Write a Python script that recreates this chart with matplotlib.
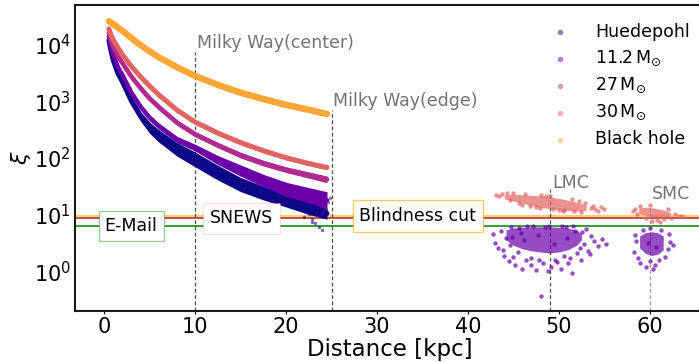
import matplotlib
matplotlib.use("Agg")
import matplotlib.pyplot as plt
import numpy as np

dist = [0.5, 0.75, 1, 1.5, 2, 3, 4, 5, 6, 8, 10, 12.5, 15, 17.5, 20, 22.5, 24.5]
xi_huedepohl = [12000, 7500, 5200, 3100, 2200, 1000, 540, 340, 245, 142, 94, 55, 34, 24, 17.8, 13, 10.5]
xi_11 = [14000, 9000, 6500, 4000, 2900, 1400, 800, 510, 365, 212, 152, 92, 60, 40, 28, 22, 18]
xi_27 = [16000, 11500, 9000, 6200, 4700, 2700, 1700, 1120, 790, 420, 262, 168, 112, 81, 62, 50, 42]
xi_30 = [19000, 14500, 12000, 8800, 6600, 4100, 2700, 1850, 1300, 700, 430, 275, 187, 135, 101, 80, 68]
xi_bh = [26000, 24500, 23000, 20000, 17500, 13000, 9800, 7600, 6000, 4000, 2800, 1950, 1420, 1100, 870, 710, 600]

# spread of each band (dex)
spr_huedepohl = [0.05, 0.06, 0.07, 0.09, 0.11, 0.14, 0.17, 0.2, 0.22, 0.24, 0.26, 0.26, 0.25, 0.24, 0.23, 0.22, 0.2]
spr_11 = [0.05, 0.05, 0.06, 0.07, 0.07, 0.08, 0.09, 0.1, 0.1, 0.11, 0.12, 0.16, 0.2, 0.22, 0.25, 0.27, 0.3]
spr_27 = [0.06, 0.06, 0.07, 0.07, 0.08, 0.08, 0.08, 0.08, 0.09, 0.09, 0.09, 0.09, 0.1, 0.1, 0.1, 0.11, 0.12]
spr_30 = [0.07] * 6 + [0.08] * 11
spr_bh = [0.1] * 17

labels = ['Huedepohl', r'11.2$\,\mathrm{M}_{\odot}$', r'27$\,\mathrm{M}_{\odot}$',
          r'30$\,\mathrm{M}_{\odot}$', 'Black hole']

# stray points at the far end of the galactic bands
stray_h_d = [22.0, 22.5, 22.8, 22.9, 23.2, 23.6, 23.9, 24.1, 24.4]
stray_h_xi = [9.0, 10.2, 8.3, 7.3, 7.0, 6.0, 5.4, 9.5, 11.5]
stray_11_d = [23.2, 23.8, 24.0, 24.3, 24.6, 24.8]
stray_11_xi = [16.4, 14.0, 10.8, 12.5, 16.5, 19.5]

# LMC / SMC clouds: dense cores (bounds) + single points
lmc30_d = [44, 45, 46, 47, 48, 49, 50, 51, 52, 53]
lmc30_hi = [22.5, 23, 22.5, 22, 21.5, 20.5, 19.5, 18, 16.5, 15]
lmc30_lo = [19, 17.5, 16, 14.5, 13.5, 12.8, 12.2, 11.8, 11.6, 11.8]
lmc30_pts_d = [43.1, 43.4, 43.8, 44.3, 45.0, 53.5, 54.0, 54.6, 55.0, 53.8, 52.5, 50.5,
               47.5, 46.0, 49.0, 51.5, 48.0, 50.0, 54.3, 52.9, 44.6, 45.6, 46.8, 47.9,
               49.4, 50.6, 51.7, 52.2, 46.3, 48.6]
lmc30_pts_xi = [22.5, 21.0, 23.5, 24.0, 23.8, 13.0, 12.5, 13.6, 12.8, 14.5, 11.3, 11.6,
                13.8, 15.0, 21.5, 19.0, 22.3, 12.0, 11.8, 16.3, 18.0, 16.4, 14.2, 13.2,
                12.4, 12.0, 11.4, 17.4, 23.4, 21.8]

lmc11_d = [44.2, 45, 46, 47, 48, 49, 50, 51, 52, 52.5]
lmc11_hi = [5.4, 5.8, 6.0, 6.1, 6.1, 6.1, 6.0, 5.8, 5.3, 4.6]
lmc11_lo = [3.6, 2.9, 2.5, 2.3, 2.2, 2.1, 2.2, 2.4, 2.9, 3.6]
lmc11_pts_d = [42.8, 43.0, 43.3, 43.6, 44.0, 44.2, 44.5, 44.8, 45.2, 45.5, 46.0, 46.4,
               47.0, 47.5, 48.0, 48.3, 48.8, 49.2, 49.6, 50.2, 50.6, 51.0, 51.5, 52.0,
               52.4, 52.8, 53.2, 53.5, 53.9, 54.3, 54.8, 55.2, 52.6, 53.0, 46.5, 50.8,
               48.5, 44.6, 45.8, 51.8, 43.9, 45.0, 46.9, 47.8, 49.8, 51.2, 52.3, 53.4,
               45.6, 47.2, 48.9, 50.4, 51.6, 44.9, 46.2, 47.7, 49.5, 50.9]
lmc11_pts_xi = [4.5, 3.2, 2.6, 5.2, 1.9, 3.8, 1.5, 6.0, 1.3, 2.2, 1.1, 1.6,
                1.3, 1.05, 0.37, 1.4, 1.0, 1.2, 1.6, 1.1, 1.9, 1.4, 0.95, 2.1,
                1.6, 3.0, 2.3, 4.2, 3.4, 2.8, 3.7, 3.0, 4.9, 5.6, 6.2, 6.0,
                6.1, 2.9, 4.8, 5.2, 2.4, 1.8, 1.7, 1.6, 1.45, 1.7, 2.6, 2.0,
                5.9, 6.3, 6.4, 6.3, 6.2, 4.0, 3.6, 4.4, 3.1, 3.9]

smc30_d = [58.8, 59.5, 60.3, 61.0, 61.8, 62.3]
smc30_hi = [13.0, 13.6, 13.2, 12.6, 11.8, 10.8]
smc30_lo = [10.4, 9.8, 9.2, 9.0, 9.2, 9.6]
smc30_pts_d = [58.2, 58.4, 58.6, 59.0, 60.0, 60.8, 61.2, 61.6, 62.4, 62.8, 63.2, 63.6,
               60.3, 59.6, 62.0]
smc30_pts_xi = [11.5, 12.6, 10.2, 14.2, 14.6, 8.0, 7.3, 8.4, 8.8, 10.1, 9.4, 9.5,
                7.6, 8.6, 12.4]

smc11_d = [58.9, 59.5, 60.2, 60.9, 61.5]
smc11_hi = [4.2, 4.8, 5.0, 4.8, 4.2]
smc11_lo = [2.6, 2.1, 1.9, 2.0, 2.4]
smc11_pts_d = [58.3, 58.5, 58.7, 59.0, 59.3, 59.6, 60.0, 60.1, 60.4, 60.6, 61.0, 61.3,
               61.7, 62.0, 62.3, 62.6, 62.1, 58.4, 59.8, 60.7]
smc11_pts_xi = [2.2, 3.4, 1.7, 1.4, 5.3, 1.2, 1.5, 5.8, 1.1, 1.3, 1.6, 5.4,
                1.8, 2.5, 3.3, 2.9, 4.6, 4.4, 3.2, 2.7]

# alert thresholds
thr_blind = 9.5
thr_snews = 8.6
thr_email = 6.3

colors = plt.cm.plasma(np.linspace(0, 0.8, 5))

fig = plt.figure(figsize=(6.99, 3.62), dpi=100)
ax = fig.add_axes([0.1073, 0.141, 0.9, 0.845])
ax.set_yscale('log')

series = [xi_huedepohl, xi_11, xi_27, xi_30, xi_bh]
spreads = [spr_huedepohl, spr_11, spr_27, spr_30, spr_bh]
widths = [3.6, 3.2, 3.4, 3.6, 4.6]
d = np.array(dist)
for i, (vals, spr) in enumerate(zip(series, spreads)):
    v = np.array(vals, dtype=float)
    s = np.array(spr)
    ax.fill_between(d, v * 10 ** (-s / 2), v * 10 ** (s / 2), color=colors[i], lw=0, zorder=3 + i)
    ax.plot(d, v, color=colors[i], lw=widths[i], solid_capstyle='round', zorder=3 + i)

ax.scatter(stray_h_d, stray_h_xi, s=6, color=colors[0], alpha=0.6, lw=0, zorder=3)
ax.scatter(stray_11_d, stray_11_xi, s=6, color=colors[1], alpha=0.6, lw=0, zorder=4)

# LMC / SMC
for cd, hi, lo, pd, px, c in [(lmc30_d, lmc30_hi, lmc30_lo, lmc30_pts_d, lmc30_pts_xi, colors[3]),
                              (lmc11_d, lmc11_hi, lmc11_lo, lmc11_pts_d, lmc11_pts_xi, colors[1]),
                              (smc30_d, smc30_hi, smc30_lo, smc30_pts_d, smc30_pts_xi, colors[3]),
                              (smc11_d, smc11_hi, smc11_lo, smc11_pts_d, smc11_pts_xi, colors[1])]:
    ax.fill_between(cd, lo, hi, color=c, alpha=0.7, lw=0, zorder=3)
    ax.scatter(pd, px, s=10, color=c, alpha=0.7, lw=0, zorder=3)

# threshold lines
ax.axhline(thr_blind, color='orange', alpha=0.55, lw=1.6, zorder=2)
ax.axhline(thr_snews, color='#b22418', lw=1.1, zorder=2)
ax.axhline(thr_email, color='green', lw=1.1, zorder=2)

ax.text(2.95, thr_email, 'E-Mail', fontsize=12.5, ha='center', va='center', zorder=10,
        bbox=dict(boxstyle='square,pad=0.35', fc='white', ec=(0, 0.5, 0, 0.4), lw=1))
ax.text(15.1, thr_snews, 'SNEWS', fontsize=12.5, ha='center', va='center', zorder=10,
        bbox=dict(boxstyle='square,pad=0.38', fc='white', ec=(1, 0, 0, 0.12), lw=1))
ax.text(34.5, thr_blind, 'Blindness cut', fontsize=12.5, ha='center', va='center', zorder=10,
        bbox=dict(boxstyle='square,pad=0.38', fc='white', ec=(1, 0.65, 0, 0.6), lw=1))

# reference distances
ymin = 0.2
dash = (0, (3, 2))
ax.vlines(10, ymin, 7450, colors='0.3', linestyles=dash, lw=0.9, zorder=2)
ax.vlines(25, ymin, 710, colors='0.3', linestyles=dash, lw=0.9, zorder=2)
ax.vlines(49.0, ymin, 28, colors='0.3', linestyles=dash, lw=0.9, zorder=2)
ax.vlines(60.0, ymin, 15, colors='0.6', linestyles=dash, lw=0.9, zorder=2)
ax.text(10.2, 7450, 'Milky Way(center)', color='0.45', fontsize=12.5, ha='left', va='bottom')
ax.text(25.2, 710, 'Milky Way(edge)', color='0.45', fontsize=12.5, ha='left', va='bottom')
ax.text(49.3, 25.6, 'LMC', color='0.45', fontsize=12.5, ha='left', va='bottom')
ax.text(60.3, 16.4, 'SMC', color='0.45', fontsize=12.5, ha='left', va='bottom')

# legend
for i, lab in enumerate(labels):
    ax.scatter([], [], s=16, color=colors[i], alpha=0.5, lw=0, label=lab)
ax.legend(loc='upper left', bbox_to_anchor=(543 / 699, 1 - 23 / 362), bbox_transform=fig.transFigure,
          frameon=False, fontsize=12.5, borderpad=0, borderaxespad=0, handlelength=2.0,
          handletextpad=1.0, labelspacing=0.45, scatterpoints=1)

ax.set_xlim(-3.23, 66.0)
ax.set_ylim(0.2, 5e4)
ax.set_xticks([0, 10, 20, 30, 40, 50, 60])
ax.yaxis.set_minor_locator(matplotlib.ticker.NullLocator())
ax.tick_params(axis='x', labelsize=15, length=2.5, pad=1.5)
ax.tick_params(axis='y', labelsize=15, length=0, pad=3)
for sp in ['left', 'bottom', 'top', 'right']:
    ax.spines[sp].set_linewidth(1.5)
    ax.spines[sp].set_color('0.1')
ax.set_xlabel('Distance [kpc]', fontsize=16.5, labelpad=1)
ax.set_ylabel(r'$\xi$', fontsize=16, labelpad=0.5)

fig.savefig('out.png', dpi=100)
